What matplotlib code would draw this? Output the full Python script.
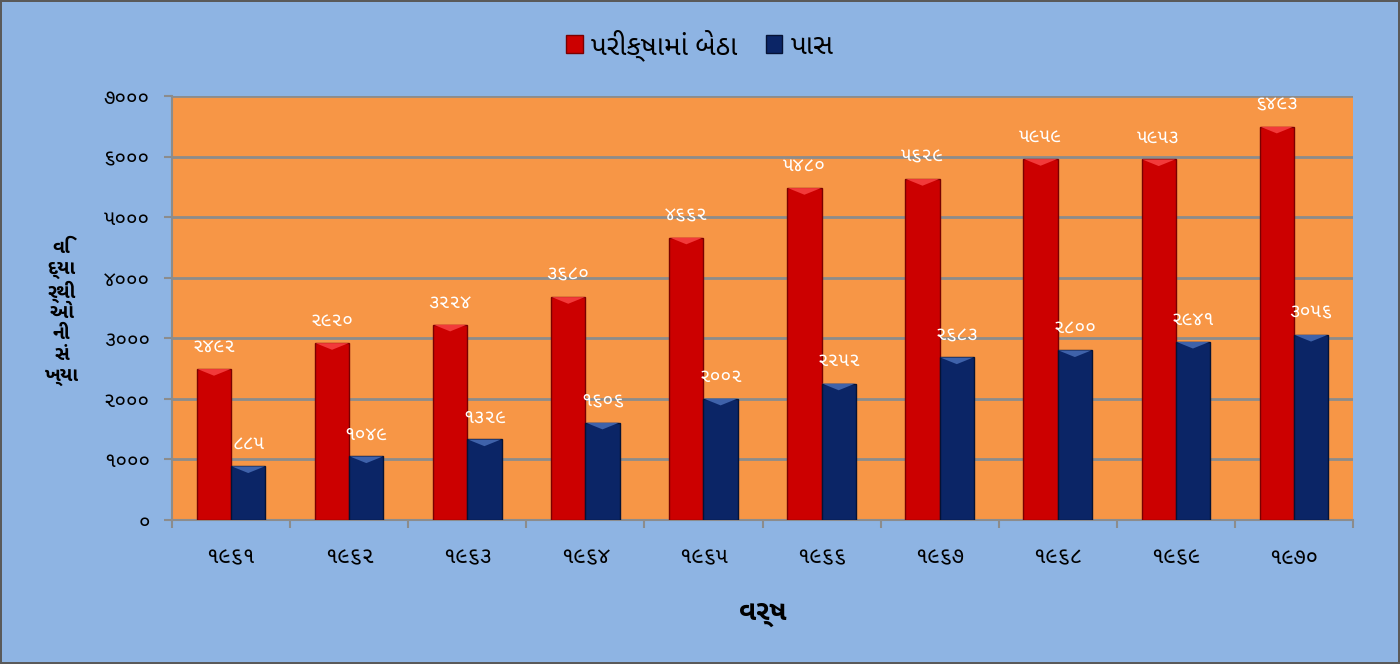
import numpy as np
import matplotlib
matplotlib.use("Agg")
import matplotlib.pyplot as plt
from matplotlib.patches import Patch, Polygon

REG = ['Noto Sans Gujarati', 'Noto Sans Gujarati UI', 'DejaVu Sans']
BOLD = ['Noto Sans Gujarati UI', 'Noto Sans Gujarati', 'DejaVu Sans']
plt.rcParams['font.family'] = REG

# data
years = [1961, 1962, 1963, 1964, 1965, 1966, 1967, 1968, 1969, 1970]
appeared = [2492, 2920, 3224, 3680, 4662, 5480, 5629, 5959, 5953, 6493]
passed = [885, 1049, 1329, 1606, 2002, 2252, 2683, 2800, 2941, 3056]
yticks = [0, 1000, 2000, 3000, 4000, 5000, 6000, 7000]

series_names = ["પરીક્ષામાં બેઠા", "પાસ"]
xlabel = "વર્ષ"
ylabel = "વિ\nદ્યા\nર્થી\nઓ\nની\nસં\nખ્યા"

GU_DIGITS = str.maketrans("0123456789", "૦૧૨૩૪૫૬૭૮૯")

def guj(n):
    return str(n).translate(GU_DIGITS)

BG = "#8EB4E3"
ORANGE = "#F79646"
RED = "#CC0000"
RED_TOP = "#F23A3A"
BLUE = "#0B2566"
BLUE_TOP = "#3F62AA"
GRID = "#8C8C8C"

fig = plt.figure(figsize=(14, 6.64), dpi=100)
fig.patch.set_facecolor(BG)
fig.patch.set_edgecolor("#5A5A5A")
fig.patch.set_linewidth(1.5)

ax = fig.add_axes([0.1229, 0.2169, 0.8435, 0.6385])
ax.set_facecolor(ORANGE)

x = np.arange(len(years))
w = 0.29
b1 = ax.bar(x - w / 2, appeared, w, color=RED, edgecolor="#7A0000", linewidth=1.0, zorder=3)
b2 = ax.bar(x + w / 2, passed, w, color=BLUE, edgecolor="#051235", linewidth=1.0, zorder=3)

# shallow bevel on the top of each bar
bev = 110
for bars, col in ((b1, RED_TOP), (b2, BLUE_TOP)):
    for r in bars:
        x0, x1, h = r.get_x(), r.get_x() + r.get_width(), r.get_height()
        ax.add_patch(Polygon([(x0 + 0.005, h), (x1 - 0.005, h), ((x0 + x1) / 2, h - bev)],
                             closed=True, color=col, zorder=4, lw=0))

for r, v in zip(b1, appeared):
    ax.text(r.get_x() + r.get_width() / 2, v + 200, guj(v), ha="center", va="bottom",
            color="white", fontsize=14, zorder=5)
for r, v in zip(b2, passed):
    ax.text(r.get_x() + r.get_width() / 2, v + 200, guj(v), ha="center", va="bottom",
            color="white", fontsize=14, zorder=5)

ax.set_xlim(-0.5, len(years) - 0.5)
ax.set_ylim(0, 7000)
ax.set_yticks(yticks)
ax.set_yticklabels([guj(t) for t in yticks], fontsize=15)
ax.set_xticks(x)
ax.set_xticklabels([guj(y) for y in years], fontsize=16)
ax.set_xticks(np.arange(len(years) + 1) - 0.5, minor=True)
ax.tick_params(axis="x", which="major", length=0, pad=20)
ax.tick_params(axis="x", which="minor", length=6, color=GRID, width=1.5)
ax.tick_params(axis="y", length=6, color=GRID, width=1.5, pad=10)

ax.grid(axis="y", color=GRID, linewidth=2, zorder=0)
ax.set_axisbelow(True)
for s in ("top", "right"):
    ax.spines[s].set_visible(False)
for s in ("left", "bottom"):
    ax.spines[s].set_color(GRID)
    ax.spines[s].set_linewidth(1.5)

ax.set_xlabel(xlabel, fontsize=20, fontweight="bold", family=BOLD, labelpad=22)
fig.text(0.044, 0.53, ylabel, ha="center", va="center", fontsize=14,
         fontweight="bold", family=BOLD, linespacing=1.05)

handles = [Patch(facecolor=RED, edgecolor="#7A0000"), Patch(facecolor=BLUE, edgecolor="#051235")]
fig.legend(handles, series_names, loc="center", bbox_to_anchor=(0.5, 0.932), ncol=2,
           frameon=False, fontsize=20, handlelength=0.6, handleheight=0.6,
           handletextpad=0.3, columnspacing=1.0)

fig.savefig("out.png", dpi=100, facecolor=BG, edgecolor="#5A5A5A")
